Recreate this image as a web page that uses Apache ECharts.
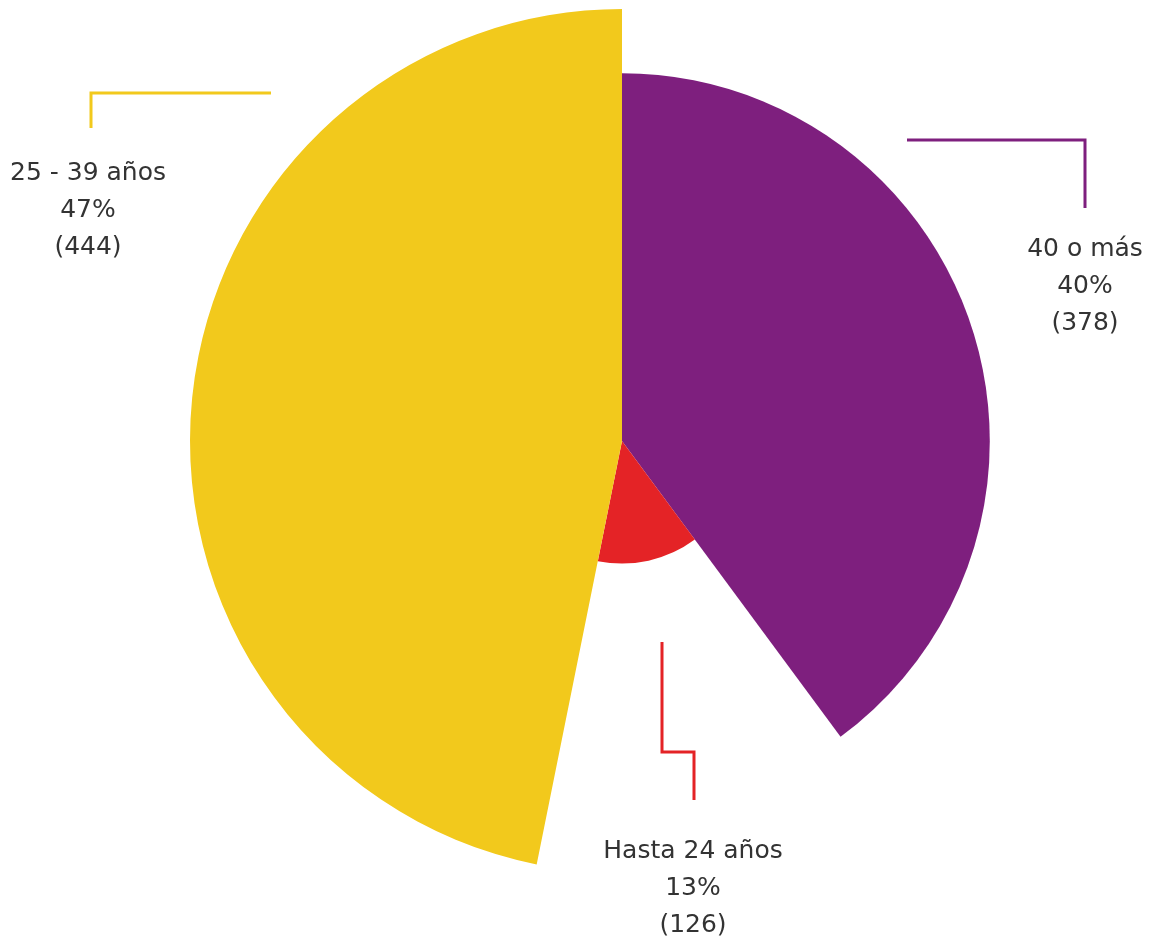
<!DOCTYPE html>
<html>
<head>
<meta charset="utf-8">
<script src="https://cdn.jsdelivr.net/npm/echarts@6/dist/echarts.min.js"></script>
<style>
  html, body { margin: 0; padding: 0; background: #fff; }
  #main { width: 1156px; height: 942px; }
</style>
</head>
<body>
<div id="main"></div>
<script>
// datos
var categorias = ['40 o más', 'Hasta 24 años', '25 - 39 años'];
var valores = [378, 126, 444];
var colores = ['#7E1F7E', '#E42326', '#F2C91C'];

// donde va cada etiqueta y su linea quebrada
var posEtiquetas = [
    { x: 1085, y: 286, linea: [[907, 140], [1085, 140], [1085, 208]] },
    { x: 693, y: 888, linea: [[662, 642], [662, 752], [694, 752], [694, 800]] },
    { x: 88, y: 210, linea: [[271, 93], [91, 93], [91, 128]] }
];

var datos = [];
for (var i = 0; i < categorias.length; i++) {
    datos.push({
        name: categorias[i],
        value: valores[i],
        itemStyle: { color: colores[i] }
    });
}

var myChart = echarts.init(document.getElementById('main'));
myChart.setOption({
    animation: false,
    series: [{
        type: 'pie',
        roseType: 'radius',
        center: [622, 441],
        radius: [0, 432],
        startAngle: 90,
        clockwise: true,
        avoidLabelOverlap: false,
        percentPrecision: 0,
        itemStyle: { borderWidth: 0 },
        label: {
            show: true,
            position: 'outside',
            formatter: '{b}\n{d}%\n({c})',
            fontFamily: 'DejaVu Sans',
            fontSize: 25,
            lineHeight: 37,
            color: '#333333',
            align: 'center'
        },
        labelLine: {
            show: true,
            lineStyle: { width: 3 }
        },
        labelLayout: function (params) {
            var p = posEtiquetas[params.dataIndex];
            return {
                x: p.x,
                y: p.y,
                align: 'center',
                verticalAlign: 'middle',
                labelLinePoints: p.linea
            };
        },
        emphasis: { disabled: true },
        data: datos
    }]
});
</script>
</body>
</html>
